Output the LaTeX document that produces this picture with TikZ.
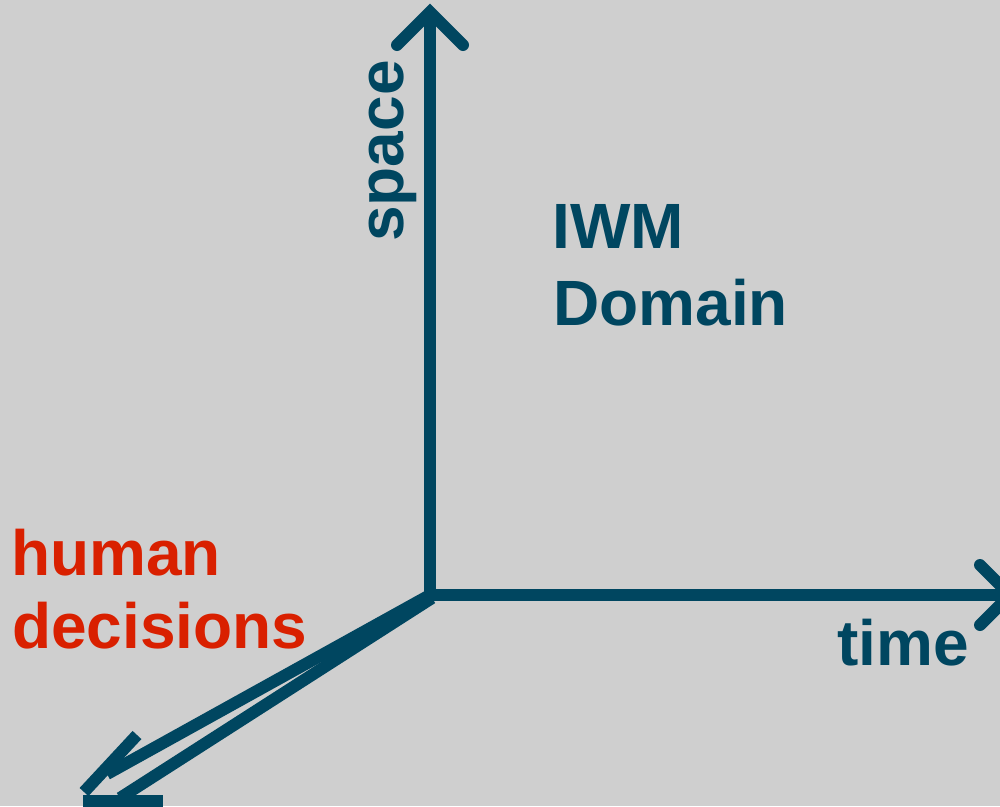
\documentclass[tikz,border=0pt]{standalone}
\usepackage{fontspec}
\setmainfont{Liberation Sans}
\definecolor{axisblue}{HTML}{004660}
\definecolor{hred}{HTML}{D92000}
\definecolor{bggray}{HTML}{CFCFCF}
\begin{document}
\begin{tikzpicture}[x=1pt,y=-1pt,
  axis/.style={draw=axisblue,line width=12pt},
  headline/.style={draw=axisblue,line width=12pt,line cap=round,line join=miter},
  lbl/.style={inner sep=0pt,anchor=base west,font=\fontsize{64}{77}\selectfont\bfseries},
  bluetxt/.style={lbl,text=axisblue},
  redtxt/.style={lbl,text=hred}]
\fill[bggray] (0,0) rectangle (1000,806);
\useasboundingbox (0,0) rectangle (1000,806);
\clip (0,0) rectangle (1000,806);
% coordinates
\coordinate (O) at (430,595);
\coordinate (Vtop) at (430,12);
\coordinate (Vl) at (397,45);
\coordinate (Vr) at (463,45);
\coordinate (Htip) at (1010,595);
\coordinate (Hu) at (980,565);
\coordinate (Hd) at (980,625);
\coordinate (O2) at (432,598);
\coordinate (D1) at (107,774);
\coordinate (D2) at (120,798);
\coordinate (Da) at (137,735);
\coordinate (Dtip) at (84,792);
\coordinate (Bl) at (83,801);
\coordinate (Br) at (163,801);
% axes
\draw[axis] (O) -- (Vtop);
\draw[headline] (Vl) -- (Vtop) -- (Vr);
\draw[axis] (O) -- (Htip);
\draw[headline] (Hu) -- (Htip) -- (Hd);
\draw[axis] (O) -- (D1);
\draw[axis] (O2) -- (D2);
\draw[axis] (Da) -- (Dtip);
\draw[axis] (Bl) -- (Br);
% labels
\node[bluetxt,rotate=90] (space) at (403,242) {space};
\node[bluetxt] (iwm) at (552,248) {IWM};
\node[bluetxt] (domain) at (553,325) {Domain};
\node[bluetxt] (time) at (837,665) {time};
\node[redtxt] (human) at (11,575) {human};
\node[redtxt] (decisions) at (12,648) {decisions};
\end{tikzpicture}
\end{document}
